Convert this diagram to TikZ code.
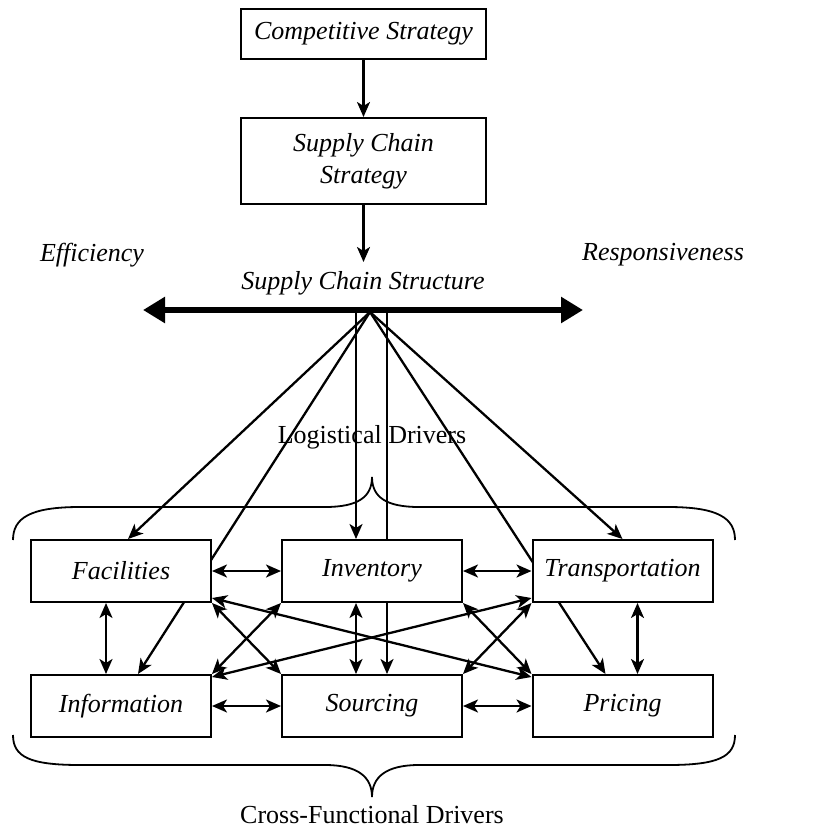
\documentclass[tikz,border=0pt]{standalone}
\usepackage{fontspec}
\setmainfont{Liberation Serif}
\usetikzlibrary{arrows.meta,calc,backgrounds}
\begin{document}
\begin{tikzpicture}[x=1pt,y=-1pt,
  box/.style={draw,line width=2pt,fill=white,minimum width=180pt,minimum height=62pt,inner sep=0pt,font=\fontsize{26}{32}\selectfont\itshape},
  lbl/.style={font=\fontsize{26}{32}\selectfont\itshape,inner sep=0pt},
  plain/.style={font=\fontsize{26}{32}\selectfont,inner sep=0pt},
  conn/.style={line width=2.3pt},
  arr/.style={conn,-{Stealth[length=15pt,width=13pt,inset=4pt]}},
  darr/.style={conn,{Stealth[length=15pt,width=13pt,inset=4pt]}-{Stealth[length=15pt,width=13pt,inset=4pt]}},
  brace/.style={line width=1.8pt},
]
\useasboundingbox (0,0) rectangle (812,830);

\node[box,minimum width=245pt,minimum height=50pt] (cs) at (363.5,34) {Competitive Strategy};
\node[box,minimum width=245pt,minimum height=86pt,align=center] (scs) at (363.5,161) {Supply Chain\\Strategy};
\node[lbl] (eff) at (92,255) {Efficiency};
\node[lbl] (resp) at (663,255) {Responsiveness};
\node[lbl] (scst) at (363,283) {Supply Chain Structure};
\coordinate (barL) at (143,310);
\coordinate (barR) at (583,310);
\coordinate (apex) at (370,312);
\coordinate (v1) at (356,312);
\coordinate (v2) at (387,312);
\coordinate (scsEnd) at (363.5,262);

\node[box] (fac) at (121,571) {Facilities};
\node[box] (inv) at (372,571) {Inventory};
\node[box] (tra) at (622.5,571) {Transportation};
\node[box] (inf) at (121,706) {Information};
\node[box] (src) at (372,706) {Sourcing};
\node[box] (pri) at (622.5,706) {Pricing};
\node[plain] (logd) at (372,437) {Logistical Drivers};
\node[plain] (cfd) at (372,815) {Cross-Functional Drivers};

\draw[arr] (cs.south) -- (scs.north);
\draw[arr] (scs.south) -- (scsEnd);
\draw[line width=6.5pt,{Triangle[length=22pt,width=25pt]}-{Triangle[length=22pt,width=25pt]}] (barL) -- (barR);

\begin{scope}[on background layer]
\draw[arr] (apex) -- ($(fac.north)+(7,0)$);
\draw[arr] (apex) -- ($(inf.north)+(17,0)$);
\draw[arr] (v1) -- (v1 |- inv.north);
\draw[arr] (v2) -- (v2 |- src.north);
\draw[arr] (apex) -- (tra.north);
\draw[arr] (apex) -- ($(pri.north)+(-17,0)$);
\end{scope}

% horizontal
\draw[darr] (fac.east) -- (inv.west);
\draw[darr] (inv.east) -- (tra.west);
\draw[darr] (inf.east) -- (src.west);
\draw[darr] (src.east) -- (pri.west);
% vertical
\draw[darr] ($(fac.south)+(-15,0)$) -- ($(inf.north)+(-15,0)$);
\draw[darr] ($(inv.south)+(-16,0)$) -- ($(src.north)+(-16,0)$);
\draw[darr] ($(tra.south)+(15,0)$) -- ($(pri.north)+(15,0)$);
% diagonals
\draw[darr] (fac.south east) -- (src.north west);
\draw[darr] (inf.north east) -- (inv.south west);
\draw[darr] (inv.south east) -- (pri.north west);
\draw[darr] (src.north east) -- (tra.south west);
\draw[darr] ($(fac.south east)+(0,-5)$) -- ($(pri.north west)+(0,3)$);
\draw[darr] ($(inf.north east)+(0,3)$) -- ($(tra.south west)+(0,-5)$);

% braces
\draw[brace] (13,540) .. controls (13,518) and (30,507) .. (80,507) -- (325,507)
  .. controls (358,507) and (372,497) .. (372,477)
  .. controls (372,497) and (386,507) .. (419,507) -- (668,507)
  .. controls (718,507) and (735,518) .. (735,540);
\draw[brace] (13,735) .. controls (13,757) and (30,765) .. (80,765) -- (325,765)
  .. controls (358,765) and (372,777) .. (372,797)
  .. controls (372,777) and (386,765) .. (419,765) -- (668,765)
  .. controls (718,765) and (735,757) .. (735,735);
\end{tikzpicture}
\end{document}
